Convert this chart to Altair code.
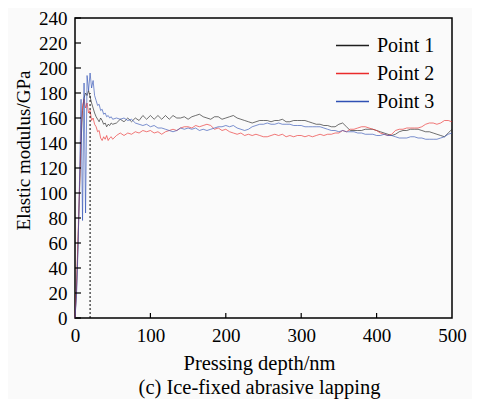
import altair as alt
import pandas as pd

# x grid (nm)
depth = list(range(0, 50, 2)) + list(range(50, 501, 5))

series_names = ["Point 1", "Point 2", "Point 3"]
series_colors = ["#1e1e1e", "#ea2b2b", "#2f50b4"]

point1 = [0, 22, 60, 100, 140, 166, 176, 180, 178, 182, 177, 172, 168, 164, 161, 159, 157, 160, 158, 155, 156, 153, 155, 154, 156,
          155, 156, 159, 157, 160, 157, 160, 158, 162, 159,
          162, 159, 162, 159, 162, 159, 162, 160, 160, 161,
          159, 161, 162, 163, 161, 160, 159, 161, 161, 159,
          160, 161, 162, 160, 159, 158, 157, 156, 157, 158,
          158, 158, 157, 158, 158, 159, 157, 157, 158, 158,
          158, 158, 157, 156, 155, 155, 154, 154, 153, 153,
          155, 156, 153, 150, 150, 150, 150, 151, 151, 151,
          150, 149, 148, 147, 146, 147, 149, 150, 150, 151,
          151, 151, 150, 149, 149, 148, 147, 146, 145, 148,
          151]

point2 = [0, 25, 65, 105, 150, 170, 175, 168, 172, 164, 166, 158, 160, 155, 153, 149, 150, 144, 142, 145, 143, 146, 142, 144, 145,
          143, 146, 148, 146, 148, 147, 149, 148, 150, 149,
          150, 148, 149, 147, 149, 150, 151, 150, 152, 153,
          153, 152, 154, 153, 154, 155, 154, 151, 152, 150,
          151, 149, 148, 147, 148, 146, 147, 146, 147, 146,
          145, 145, 146, 147, 146, 147, 145, 146, 145, 146,
          146, 145, 146, 145, 146, 147, 146, 147, 147, 148,
          148, 150, 149, 151, 151, 152, 153, 153, 152, 151,
          150, 148, 147, 146, 147, 150, 151, 151, 152, 152,
          152, 152, 153, 155, 156, 156, 155, 156, 158, 158,
          157]

point3 = [0, 18, 55, 110, 175, 78, 188, 84, 194, 182, 196, 184, 190, 178, 174, 170, 171, 166, 167, 163, 164, 161, 162, 160, 161,
          159, 160, 159, 160, 158, 159, 156, 155, 154, 155,
          153, 154, 152, 152, 151, 150, 149, 150, 152, 151,
          152, 151, 152, 150, 151, 150, 151, 152, 153, 153,
          154, 153, 154, 152, 151, 150, 151, 153, 154, 155,
          155, 156, 155, 155, 156, 155, 155, 155, 154, 154,
          154, 153, 153, 153, 153, 153, 152, 151, 150, 150,
          149, 150, 149, 149, 149, 148, 148, 147, 147, 147,
          146, 146, 147, 146, 146, 145, 144, 144, 144, 145,
          145, 144, 144, 143, 143, 143, 143, 144, 145, 147,
          148]

y_ticks = list(range(0, 241, 20))
x_ticks = [0, 100, 200, 300, 400, 500]
x_inner_ticks = [100, 200, 300, 400]
marker_depth = [20]
marker_top = [180]

rows = []
for name, vals in zip(series_names, [point1, point2, point3]):
    for d, v in zip(depth, vals):
        rows.append({"depth": d, "modulus": v, "series": name})
df = pd.DataFrame(rows)

FONT = "'Liberation Serif', 'Times New Roman', Times, serif"
xscale = alt.Scale(domain=[0, 500], nice=False, zero=False)
yscale = alt.Scale(domain=[0, 240], nice=False)

x_axis = alt.Axis(values=x_ticks, format="d", ticks=False, domain=False, grid=False,
                  labelFont=FONT, labelFontSize=19, labelColor="black", labelPadding=8,
                  labelFlush=False,
                  title=["Pressing depth/nm", "(c) Ice-fixed abrasive lapping"],
                  titleFont=FONT, titleFontSize=20.5, titleFontWeight="normal",
                  titleColor="black", titleLineHeight=24, titleX=184, titleY=51,
                  titleBaseline="alphabetic", titleAlign="center")
y_axis = alt.Axis(values=y_ticks, format="d", ticks=False, domain=False, grid=False,
                  labelFont=FONT, labelFontSize=19, labelColor="black", labelPadding=8,
                  labelFlush=False,
                  title="Elastic modulus/GPa", titleFont=FONT, titleFontSize=19,
                  titleFontWeight="normal", titleColor="black",
                  titleX=-52, titleY=132, titleAngle=270,
                  titleBaseline="middle", titleAlign="center")

lines = alt.Chart(df).mark_line(strokeWidth=0.85, opacity=0.75).encode(
    x=alt.X("depth:Q", scale=xscale, axis=x_axis),
    y=alt.Y("modulus:Q", scale=yscale, axis=y_axis),
    color=alt.Color("series:N",
                    scale=alt.Scale(domain=series_names, range=series_colors),
                    legend=alt.Legend(title=None, orient="none", legendX=260, legendY=10,
                                      symbolType="stroke", symbolSize=1089, symbolStrokeWidth=1.5,
                                      symbolOpacity=1,
                                      labelFont=FONT, labelFontSize=20, labelColor="black",
                                      labelOffset=7, rowPadding=-1, padding=0)),
)

ytick = alt.Chart(pd.DataFrame({"modulus": y_ticks})).mark_rule(color="black", strokeWidth=1.2).encode(
    y=alt.Y("modulus:Q", scale=yscale, axis=y_axis),
    x=alt.value(0), x2=alt.value(6),
)
xtick = alt.Chart(pd.DataFrame({"depth": x_inner_ticks})).mark_rule(color="black", strokeWidth=1.2).encode(
    x=alt.X("depth:Q", scale=xscale, axis=x_axis),
    y=alt.value(300), y2=alt.value(295),
)
marker = alt.Chart(pd.DataFrame({"depth": marker_depth, "modulus": [0], "top": marker_top})).mark_rule(
    color="black", strokeWidth=1, strokeDash=[2, 2]).encode(
    x=alt.X("depth:Q", scale=xscale, axis=x_axis),
    y=alt.Y("modulus:Q", scale=yscale, axis=y_axis),
    y2="top:Q",
)

chart = alt.layer(lines, marker, ytick, xtick).properties(
    width=377, height=300,
    autosize=alt.AutoSizeParams(type="none"),
    padding={"left": 67, "top": 10, "right": 20, "bottom": 81},
    background="#fafafa",
).configure_view(stroke="black", strokeWidth=1.5)

chart.save("out.html", embed_options={"renderer": "svg", "actions": False})
